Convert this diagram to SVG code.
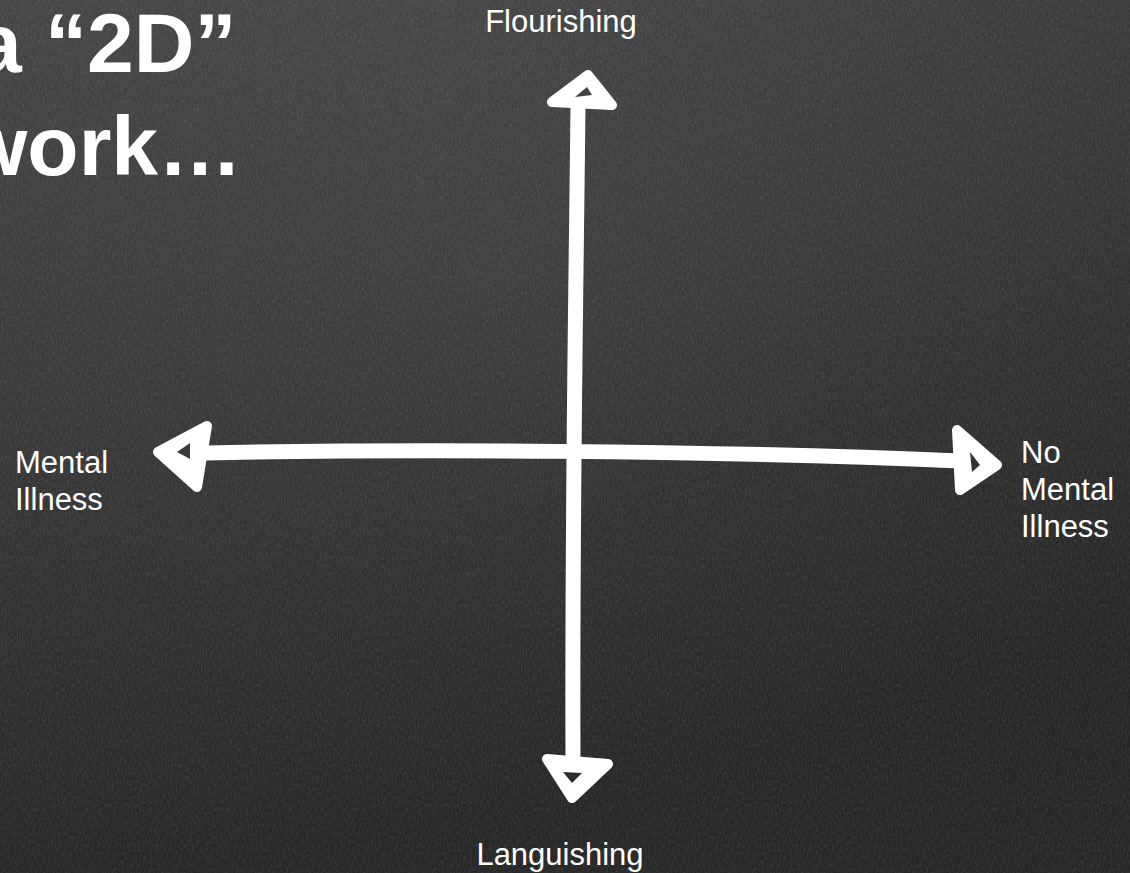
<svg xmlns="http://www.w3.org/2000/svg" width="1130" height="873" viewBox="0 0 1130 873">
  <defs>
    <linearGradient id="bg" gradientUnits="userSpaceOnUse" x1="0" y1="0" x2="220" y2="873">
      <stop offset="0" stop-color="#4c4c4c"/>
      <stop offset="0.45" stop-color="#3e3e3e"/>
      <stop offset="1" stop-color="#2b2b2b"/>
    </linearGradient>
    <radialGradient id="vig" gradientUnits="userSpaceOnUse" cx="500" cy="250" r="800">
      <stop offset="0" stop-color="#000" stop-opacity="0"/>
      <stop offset="1" stop-color="#000" stop-opacity="0.15"/>
    </radialGradient>
    <filter id="chalk" x="0" y="0" width="100%" height="100%">
      <feTurbulence type="fractalNoise" baseFrequency="0.8 0.25" numOctaves="3" seed="4"/>
      <feColorMatrix type="matrix" values="0 0 0 0 1  0 0 0 0 1  0 0 0 0 1  1.2 0 0 0 -0.45"/>
    </filter>
    <style>
      .title { font-family: "Liberation Sans", Arial, sans-serif; font-weight: bold; font-size: 84px; fill: #ffffff; }
      .lbl { font-family: "Liberation Sans", Arial, sans-serif; font-size: 31px; fill: #ffffff; }
      .axis { fill: none; stroke: #ffffff; stroke-width: 15; stroke-linecap: round; stroke-linejoin: round; }
      .head { fill: #ffffff; stroke: #ffffff; stroke-width: 10; stroke-linejoin: round; }
      .hole { fill: url(#bg); stroke: none; }
    </style>
  </defs>

  <rect x="0" y="0" width="1130" height="873" fill="url(#bg)"/>
  <rect x="0" y="0" width="1130" height="873" fill="url(#vig)"/>
  <rect x="0" y="0" width="1130" height="873" filter="url(#chalk)" opacity="0.16"/>

  <g id="title">
    <text class="title" x="-25" y="72">a “2D”</text>
    <text class="title" x="-38" y="175">work…</text>
  </g>

  <g id="connectors">
    <path id="v-axis" class="axis" d="M578,104 C576,300 572,500 573,762"/>
    <path id="h-axis" class="axis" d="M205,453 C400,449 700,450 960,461"/>
    <path id="head-top" class="head" d="M588,75 L552,102 L612,105 Z"/>
    <path class="hole" d="M575,97 L592,95 L587,87 Z"/>
    <path id="head-bottom" class="head" d="M547,759 L608,764 L572,798 Z"/>
    <path class="hole" d="M563,772 L582,773 L572,783 Z"/>
    <path id="head-left" class="head" d="M207,426 L158,452 L197,487 Z"/>
    <path class="hole" d="M177,452 L190,443 L190,459 Z"/>
    <path id="head-right" class="head" d="M957,430 L997,465 L960,490 Z"/>
    <path class="hole" d="M970,452 L980,465 L972,472 Z"/>
  </g>

  <g id="node-flourishing">
    <text class="lbl" x="561" y="32" text-anchor="middle">Flourishing</text>
  </g>
  <g id="node-languishing">
    <text class="lbl" x="560" y="865" text-anchor="middle">Languishing</text>
  </g>
  <g id="node-mental-illness">
    <text class="lbl" x="15" y="473">Mental</text>
    <text class="lbl" x="15" y="510">Illness</text>
  </g>
  <g id="node-no-mental-illness">
    <text class="lbl" x="1021" y="463">No</text>
    <text class="lbl" x="1021" y="500">Mental</text>
    <text class="lbl" x="1021" y="537">Illness</text>
  </g>
</svg>
